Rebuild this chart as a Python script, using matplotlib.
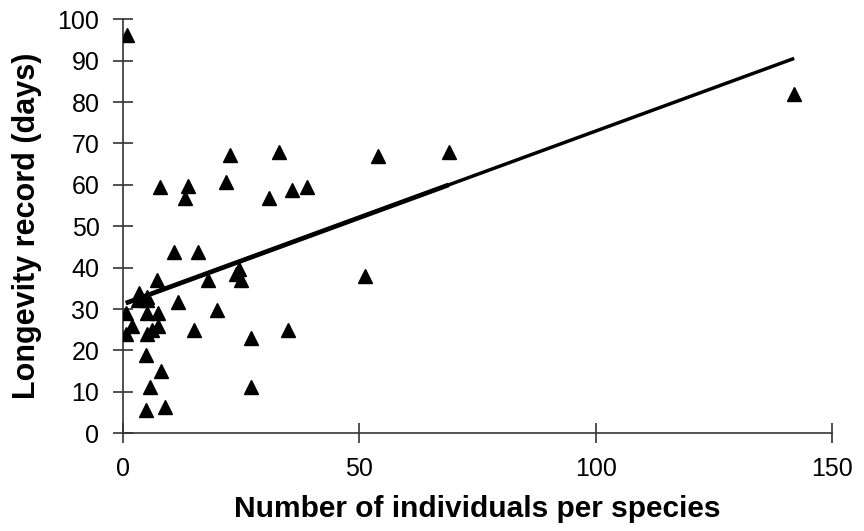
import numpy as np
import matplotlib.pyplot as plt

plt.rcParams['font.family'] = ['Liberation Sans', 'DejaVu Sans']

# individuals per species vs. longevity record (days)
individuals = [0.8, 7.8, 13.8, 13.1, 22.6, 21.8, 32.9, 30.9, 35.8, 38.9,
               10.8, 15.8, 7.1, 18.0, 24.6, 24.9, 24.0, 3.4, 5.0, 3.1,
               5.0, 11.7, 0.6, 5.0, 7.3, 19.8, 2.0, 0.6, 5.0, 6.1,
               7.3, 15.1, 35.0, 27.0, 4.9, 8.0, 5.7, 27.0, 4.9, 8.9,
               54.0, 68.9, 51.2, 142.0]
longevity = [96.2, 59.6, 59.8, 56.8, 67.2, 60.8, 68.0, 56.8, 58.8, 59.6,
             43.9, 43.9, 37.0, 37.0, 39.8, 37.0, 38.4, 33.8, 33.0, 32.2,
             32.2, 31.8, 29.0, 29.0, 29.0, 29.8, 25.8, 24.1, 24.1, 25.0,
             25.8, 25.0, 25.0, 22.9, 18.9, 15.1, 11.1, 11.1, 5.6, 6.4,
             67.0, 68.0, 38.1, 82.0]

# linear trendline as drawn in the figure
trend_slope = 0.418
trend_intercept = 31.2

x_ticks = [0, 50, 100, 150]
y_ticks = list(range(0, 101, 10))

x = np.array(individuals)
y = np.array(longevity)

fig = plt.figure(figsize=(8.64, 5.31), dpi=100)
ax = fig.add_axes([0.1424, 0.184, 0.8206, 0.7797])

ax.plot(x, y, linestyle='none', marker='^', markersize=10, color='black', zorder=3)

# trendline; the left part looks heavier in the original
xt = np.array([x.min(), x.max()])
ax.plot(xt, trend_slope * xt + trend_intercept, color='black', lw=2.5, zorder=4,
        solid_capstyle='butt')
xt2 = np.array([x.min(), x[x < 100].max()])
ax.plot(xt2, trend_slope * xt2 + trend_intercept, color='black', lw=3.4, zorder=4,
        solid_capstyle='butt')

ax.set_xlim(0, 150)
ax.set_ylim(0, 100)
ax.set_xticks(x_ticks)
ax.set_yticks(y_ticks)

for side in ['top', 'right']:
    ax.spines[side].set_visible(False)
for side in ['left', 'bottom']:
    ax.spines[side].set_color('#333333')
    ax.spines[side].set_linewidth(1.2)

ax.tick_params(axis='both', direction='inout', length=14, width=1.2,
               color='#333333', labelsize=18)
ax.tick_params(axis='y', pad=10)
ax.tick_params(axis='x', pad=10)

ax.set_xlabel('Number of individuals per species', fontsize=21.5, fontweight='bold',
              labelpad=10)
ax.set_ylabel('Longevity record (days)', fontsize=22, fontweight='bold', labelpad=11)

fig.savefig('out.png', dpi=100)
